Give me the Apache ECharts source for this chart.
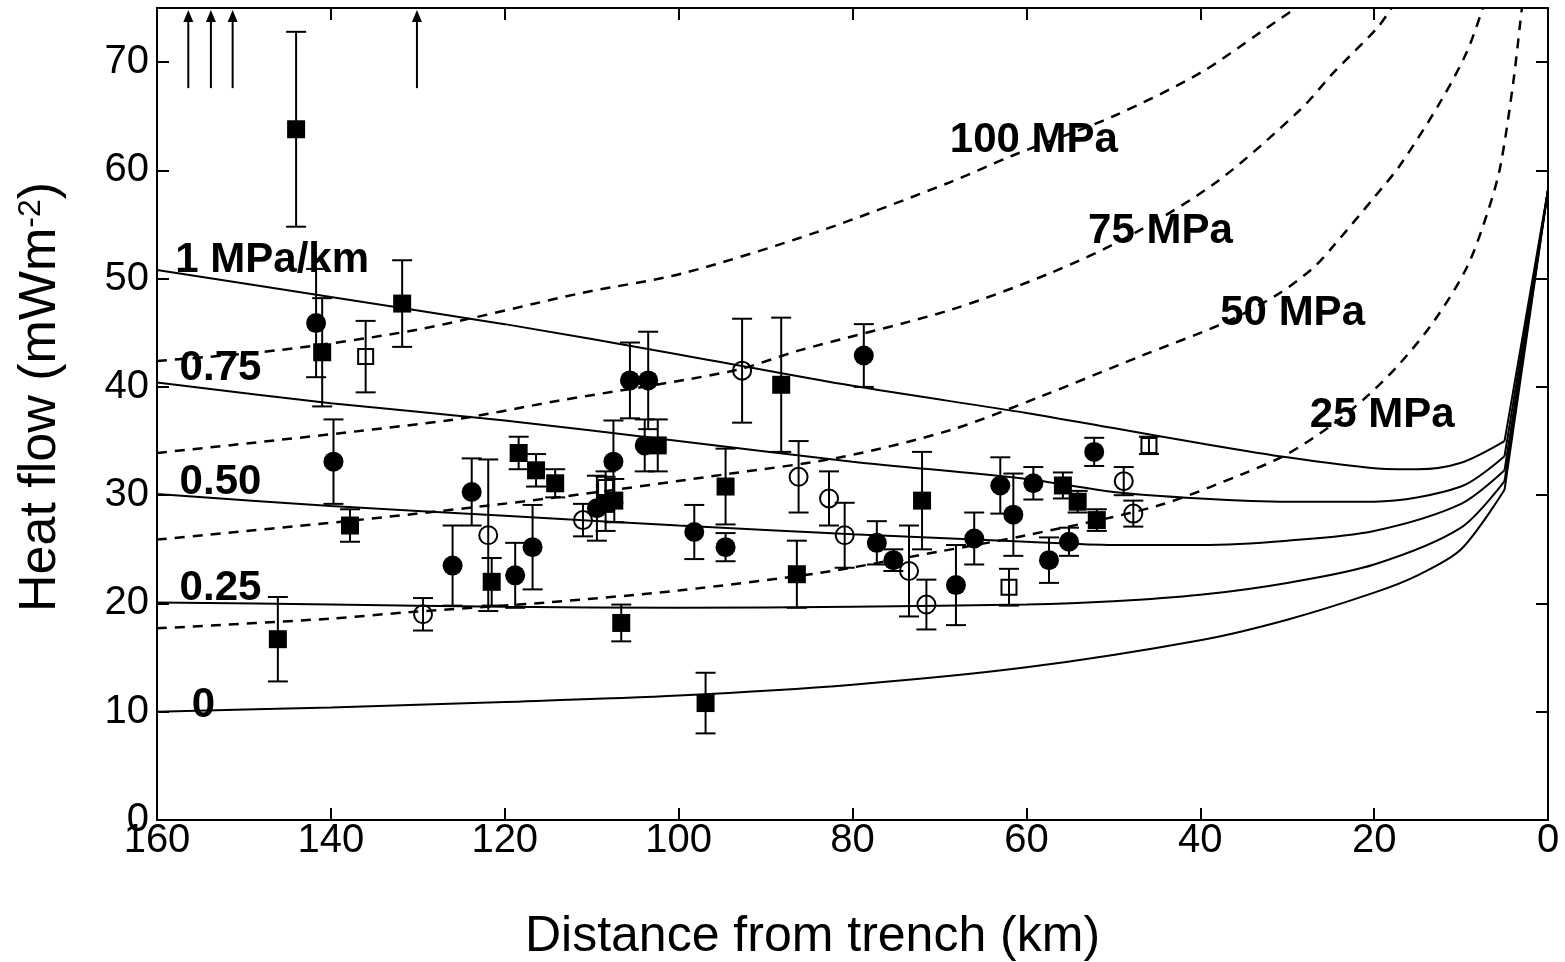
<!DOCTYPE html>
<html><head><meta charset="utf-8">
<script src="https://cdn.jsdelivr.net/npm/echarts@6/dist/echarts.min.js"></script>
<style>html,body{margin:0;padding:0;background:#fff}#c{width:1565px;height:962px}</style>
</head><body><div id="c"></div><script>
// ---- data (distance from trench km, heat flow mW/m2, error +/-) ----
const xTickValues = [160, 140, 120, 100, 80, 60, 40, 20, 0];
const yTickValues = [0, 10, 20, 30, 40, 50, 60, 70];

const filledSquares = [
  [144.0, 63.8, 9.0], [141.0, 43.2, 5.0], [137.8, 27.2, 1.5], [131.8, 47.7, 4.0],
  [146.1, 16.7, 3.9], [121.5, 22.0, 2.2], [118.4, 33.9, 1.5], [116.4, 32.3, 1.5],
  [114.2, 31.1, 1.3], [108.4, 29.2, 2.5], [107.4, 29.5, 2.0], [106.6, 18.2, 1.7],
  [102.4, 34.6, 2.4], [96.9, 10.8, 2.8], [94.6, 30.8, 3.5], [88.2, 40.2, 6.2],
  [86.4, 22.7, 3.1], [72.0, 29.5, 4.5], [55.8, 30.9, 1.2], [54.1, 29.4, 1.0],
  [51.9, 27.7, 1.0]
];
const filledCircles = [
  [141.7, 45.9, 5.0], [139.7, 33.1, 3.9], [126.0, 23.5, 3.7], [123.8, 30.3, 3.1],
  [118.8, 22.6, 3.0], [116.8, 25.2, 3.9], [109.4, 28.8, 3.0], [107.5, 33.1, 3.8],
  [105.6, 40.6, 3.5], [103.5, 40.6, 4.5], [103.9, 34.6, 2.4], [98.2, 26.6, 2.5],
  [94.6, 25.2, 1.3], [78.7, 42.9, 2.9], [77.2, 25.6, 2.0], [75.3, 24.0, 1.0],
  [68.1, 21.7, 3.7], [66.0, 26.0, 2.4], [63.0, 30.9, 2.6], [61.5, 28.2, 3.8],
  [59.2, 31.1, 1.5], [57.4, 24.0, 2.1], [55.1, 25.7, 1.3], [52.2, 34.0, 1.3]
];
const openCircles = [
  [129.4, 19.0, 1.5], [121.9, 26.3, 7.0], [111.0, 27.7, 1.5], [92.7, 41.5, 4.8],
  [86.2, 31.7, 3.3], [82.7, 29.7, 2.5], [80.9, 26.3, 3.0], [73.5, 23.0, 4.2],
  [71.5, 19.9, 2.3], [48.8, 31.3, 1.3], [47.7, 28.3, 1.2]
];
const openSquares = [
  [136.0, 42.8, 3.3], [108.4, 30.7, 1.5], [62.0, 21.5, 1.7], [45.9, 34.6, 0.8]
];
// off-scale values (arrows), start of arrow
const offScaleX = [156.4, 153.8, 151.3, 130.1];
const offScaleBase = 67.6;

// model curves: shear-stress gradient (solid)
const grad0   = [[160,10.0],[140,10.4],[120,10.9],[100,11.5],[80,12.5],[60,14.1],[40,16.6],[30,18.5],[20,21.0],[15,22.6],[10,25.0],[5,30.5]];
const grad025 = [[160,20.1],[140,19.9],[120,19.7],[100,19.6],[80,19.7],[60,19.9],[50,20.2],[40,20.8],[30,21.9],[20,23.6],[10,27.0],[5,31.3]];
const grad050 = [[160,30.1],[140,29.0],[120,28.1],[100,27.2],[80,26.4],[60,25.7],[50,25.4],[40,25.4],[30,25.8],[20,26.7],[10,29.2],[5,32.3]];
const grad075 = [[160,40.4],[140,38.5],[120,36.9],[100,35.0],[80,33.1],[60,31.5],[50,30.3],[40,29.7],[30,29.4],[20,29.4],[10,30.8],[5,33.6]];
const grad100 = [[160,50.8],[140,48.3],[120,45.8],[100,43.0],[80,40.1],[60,37.6],[50,36.2],[40,34.8],[30,33.5],[20,32.5],[15,32.4],[10,33.0],[5,35.0]];
const trenchPoint = [0, 58.2];

// model curves: constant stress (dashed)
const stress25  = [[160,17.7],[140,18.6],[131,19.2],[115,20.1],[100,21.2],[84,22.8],[70,24.8],[60,26.3],[45,29.0],[35,32.0],[30,33.8],[25,36.4],[21,39.0],[17,42.2],[13,46.2],[9.3,51.1],[7,56.0],[5.5,60.3],[4,68.1],[3.2,73.6],[3.0,75]];
const stress50  = [[160,25.9],[137,27.7],[114,29.8],[94,32.0],[81.4,33.5],[68.8,36.0],[58.4,39.1],[47,42.8],[37,46.0],[31,48.6],[27,51.0],[24.7,53.0],[20,57.5],[17,60.5],[12.4,66.3],[9.3,71.0],[7.5,75]];
const stress75  = [[160,33.9],[126.6,36.9],[114,38.7],[93.7,41.5],[86,43.4],[68.8,47.1],[57.3,50.5],[48,54.0],[38,59.0],[28.5,65.6],[24.7,69.0],[19.6,73.2],[18,75]];
const stress100 = [[160,42.4],[146,43.4],[130,45.3],[111,48.7],[99.5,50.5],[84.1,54.3],[68.8,58.9],[61.5,61.4],[50,65.0],[40,69.0],[33,72.8],[29,75]];

const curveLabels = [
  ['1 MPa/km', 157.9, 51.7], ['0.75', 157.4, 41.7], ['0.50', 157.4, 31.2],
  ['0.25', 157.4, 21.4], ['0', 156.0, 10.6],
  ['100 MPa', 68.8, 62.8], ['75 MPa', 52.9, 54.4], ['50 MPa', 37.7, 46.8], ['25 MPa', 27.4, 37.4]
];

// ---- chart ----
const FONT = 'Liberation Sans, Arial, Helvetica, sans-serif';
const BLACK = '#000';
const chart = echarts.init(document.getElementById('c'), null, {renderer: 'canvas'});

function errorBars(params, api) {
  const x = api.value(0), y = api.value(1), e = api.value(2);
  const t = api.coord([x, y + e]), b = api.coord([x, y - e]);
  const w = 10, st = {stroke: BLACK, lineWidth: 2};
  return {type: 'group', children: [
    {type: 'line', shape: {x1: t[0], y1: t[1], x2: b[0], y2: b[1]}, style: st},
    {type: 'line', shape: {x1: t[0] - w, y1: t[1], x2: t[0] + w, y2: t[1]}, style: st},
    {type: 'line', shape: {x1: b[0] - w, y1: b[1], x2: b[0] + w, y2: b[1]}, style: st}
  ]};
}
function arrows(params, api) {
  const x = api.value(0), y = api.value(1);
  const b = api.coord([x, y]), t = api.coord([x, 75]);
  const tip = t[1] + 2;
  return {type: 'group', children: [
    {type: 'line', shape: {x1: b[0], y1: b[1], x2: b[0], y2: tip + 8}, style: {stroke: BLACK, lineWidth: 2}},
    {type: 'polygon', shape: {points: [[b[0] - 5, tip + 12], [b[0] + 5, tip + 12], [b[0], tip]]}, style: {fill: BLACK}}
  ]};
}

function solid(data) {
  return {type: 'line', data: data, smooth: 0.3, symbol: 'none',
    lineStyle: {color: BLACK, width: 2}, z: 2, silent: true};
}
function trenchSeg(data) {
  return {type: 'line', data: [data[data.length - 1], trenchPoint], symbol: 'none',
    lineStyle: {color: BLACK, width: 2}, z: 2, silent: true};
}
function dashed(data) {
  return {type: 'line', data: data, smooth: 0.3, symbol: 'none',
    lineStyle: {color: BLACK, width: 2.5, type: [10, 8]}, z: 2, silent: true};
}

const allPoints = filledSquares.concat(filledCircles, openCircles, openSquares);

const axisCommon = {
  axisLine: {onZero: false, lineStyle: {color: BLACK, width: 2}},
  axisTick: {inside: true, length: 12, lineStyle: {color: BLACK, width: 2}},
  splitLine: {show: false}
};
const markerBase = {type: 'scatter', z: 4, silent: true};

chart.setOption({
  animation: false,
  backgroundColor: '#fff',
  grid: {left: 157, right: 17, top: 8, bottom: 142, containLabel: false, outerBoundsMode: 'none'},
  xAxis: [
    Object.assign({type: 'value', min: 0, max: 160, interval: 20, inverse: true, position: 'bottom',
      axisLabel: {fontSize: 40, color: BLACK, fontFamily: FONT, margin: 1,
        formatter: v => xTickValues.indexOf(v) >= 0 ? String(v) : ''},
      name: 'Distance from trench (km)', nameLocation: 'middle', nameGap: 92,
      nameTextStyle: {fontSize: 50, color: BLACK, fontFamily: FONT, padding: [0, 80, 0, 0]}}, axisCommon),
    Object.assign({type: 'value', min: 0, max: 160, interval: 20, inverse: true, position: 'top',
      axisLabel: {show: false}}, axisCommon)
  ],
  yAxis: [
    Object.assign({type: 'value', min: 0, max: 75, interval: 10, position: 'left',
      axisLabel: {fontSize: 40, color: BLACK, fontFamily: FONT, margin: 8, showMaxLabel: false,
        formatter: v => yTickValues.indexOf(v) >= 0 ? String(v) : ''},
      name: '{a|Heat flow (mWm}{s|-2}{a|)}', nameLocation: 'middle', nameGap: 90,
      nameTextStyle: {color: BLACK, fontFamily: FONT, padding: [0, 0, 0, 34],
        rich: {a: {fontSize: 52, fontFamily: FONT, color: BLACK},
               s: {fontSize: 32, fontFamily: FONT, color: BLACK, verticalAlign: 'top'}}}}, axisCommon),
    Object.assign({type: 'value', min: 0, max: 75, interval: 10, position: 'right',
      axisLabel: {show: false}}, axisCommon)
  ],
  series: [
    solid(grad0), solid(grad025), solid(grad050), solid(grad075), solid(grad100),
    trenchSeg(grad0), trenchSeg(grad025), trenchSeg(grad050), trenchSeg(grad075), trenchSeg(grad100),
    dashed(stress25), dashed(stress50), dashed(stress75), dashed(stress100),
    {type: 'custom', renderItem: errorBars, data: allPoints, encode: {x: 0, y: 1}, z: 3, clip: true, silent: true},
    {type: 'custom', renderItem: arrows, data: offScaleX.map(x => [x, offScaleBase]), encode: {x: 0, y: 1}, z: 3, silent: true},
    Object.assign({data: filledSquares, symbol: 'rect', symbolSize: 18, itemStyle: {color: BLACK, opacity: 1}}, markerBase),
    Object.assign({data: filledCircles, symbol: 'circle', symbolSize: 20, itemStyle: {color: BLACK, opacity: 1}}, markerBase),
    Object.assign({data: openCircles, symbol: 'circle', symbolSize: 18,
      itemStyle: {color: 'rgba(0,0,0,0)', borderColor: BLACK, borderWidth: 2, opacity: 1}}, markerBase),
    Object.assign({data: openSquares, symbol: 'rect', symbolSize: 15,
      itemStyle: {color: 'rgba(0,0,0,0)', borderColor: BLACK, borderWidth: 2, opacity: 1}}, markerBase),
    {type: 'scatter', data: curveLabels.map(c => ({name: c[0], value: [c[1], c[2]]})), symbolSize: 0, z: 5, silent: true,
      itemStyle: {opacity: 1},
      label: {show: true, position: 'right', distance: 0, formatter: p => p.name, opacity: 1,
        fontSize: 42, fontWeight: 'bold', color: BLACK, fontFamily: FONT}}
  ]
});
</script></body></html>
